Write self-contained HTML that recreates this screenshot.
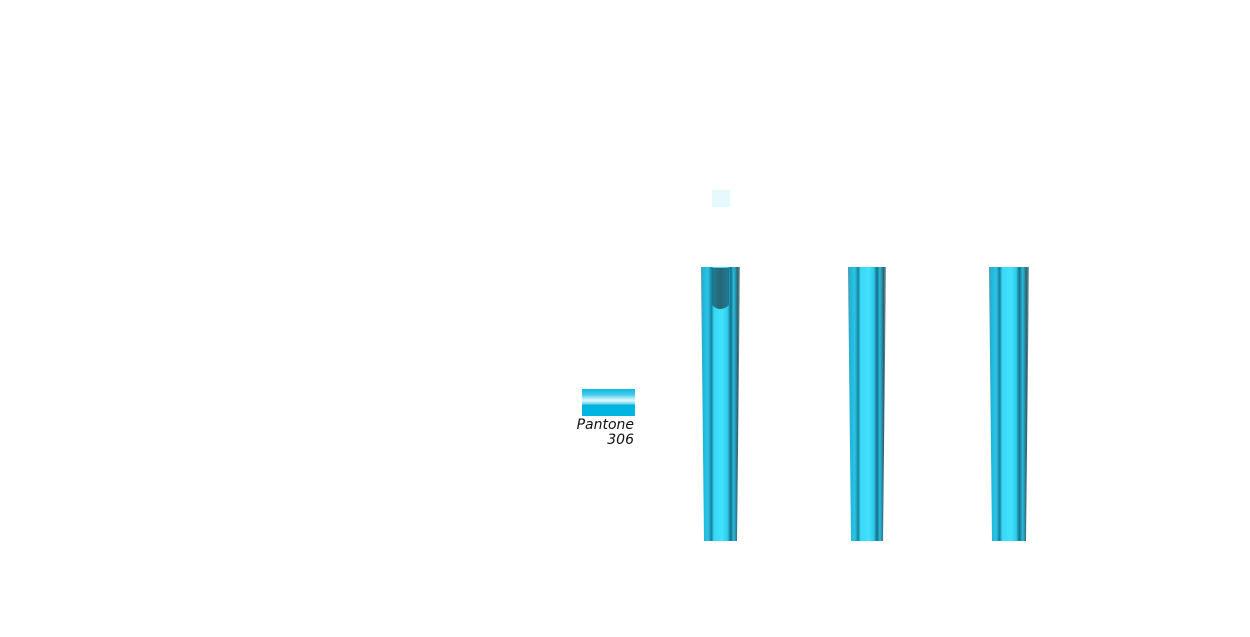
<!DOCTYPE html>
<html><head><meta charset="utf-8"><style>
html,body{margin:0;padding:0;background:#fff;width:1250px;height:637px;overflow:hidden}
</style></head><body>
<svg width="1250" height="637" viewBox="0 0 1250 637" xmlns="http://www.w3.org/2000/svg">
<defs>
<linearGradient id="t" x1="0" x2="1" y1="0" y2="0">
<stop offset="0" stop-color="#6a8f99"/>
<stop offset="0.05" stop-color="#1fb4d8"/>
<stop offset="0.18" stop-color="#2bc4e6"/>
<stop offset="0.27" stop-color="#16809c"/>
<stop offset="0.33" stop-color="#38d8f6"/>
<stop offset="0.55" stop-color="#40e2fc"/>
<stop offset="0.68" stop-color="#2ccbeb"/>
<stop offset="0.76" stop-color="#166f86"/>
<stop offset="0.84" stop-color="#26bddf"/>
<stop offset="0.94" stop-color="#2f6070"/>
<stop offset="1" stop-color="#8aa"/>
</linearGradient>
<linearGradient id="sw" x1="0" x2="0" y1="0" y2="1">
<stop offset="0" stop-color="#0fb8e2"/>
<stop offset="0.2" stop-color="#3ecbea"/>
<stop offset="0.42" stop-color="#e6f9fd"/>
<stop offset="0.55" stop-color="#6ed6ef"/>
<stop offset="0.6" stop-color="#02b3e0"/>
<stop offset="1" stop-color="#00b4e2"/>
</linearGradient>
<linearGradient id="dk" x1="0" x2="1">
<stop offset="0" stop-color="#1a6f86"/>
<stop offset="0.5" stop-color="#24505e"/>
<stop offset="1" stop-color="#1a6f86"/>
</linearGradient>
</defs>
<rect x="712" y="190" width="18" height="17" fill="#e6fafd"/>
<polygon points="701,267 740,267 737,541 704,541" fill="url(#t)"/>
<polygon points="848,267 886,267 883,541 851,541" fill="url(#t)"/>
<polygon points="989,267 1029,267 1026,541 992,541" fill="url(#t)"/>
<path d="M712,268 H729 V305 Q720,313 712,305 Z" fill="url(#dk)" opacity="0.85"/>
<rect x="582" y="389" width="53" height="27" fill="url(#sw)"/>
<text x="634" y="429" text-anchor="end" font-family="DejaVu Sans, sans-serif" font-style="italic" font-size="14" fill="#111">Pantone</text>
<text x="634" y="444" text-anchor="end" font-family="DejaVu Sans, sans-serif" font-style="italic" font-size="14" fill="#111">306</text>
</svg>
</body></html>
